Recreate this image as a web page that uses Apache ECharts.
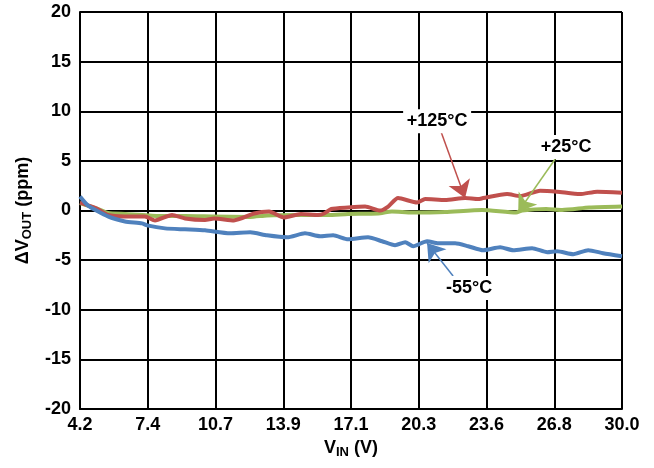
<!DOCTYPE html>
<html>
<head>
<meta charset="utf-8">
<script src="https://cdn.jsdelivr.net/npm/echarts@6/dist/echarts.min.js"></script>
<style>
html,body{margin:0;padding:0;background:#fff;}
#chart{width:654px;height:468px;}
</style>
</head>
<body>
<div id="chart"></div>
<script>
// X tick labels (V_IN)
const xTickLabels = ['4.2','7.4','10.7','13.9','17.1','20.3','23.6','26.8','30.0'];
// -55°C
const vin55 = [4.2, 4.58, 5.53, 6.34, 7.15, 7.39, 8.25, 9.2, 10.15, 11.34, 12.3, 13.1, 14.06, 14.91, 15.63, 16.25, 16.96, 17.91, 18.58, 19.2, 19.68, 20.06, 20.72, 21.25, 22.06, 22.68, 23.39, 24.2, 24.82, 25.72, 26.44, 26.91, 27.68, 28.39, 29.1, 30.0];
const dv55 = [1.4, 0.5, -0.6, -1.1, -1.3, -1.5, -1.8, -1.9, -2.0, -2.3, -2.2, -2.5, -2.7, -2.3, -2.6, -2.5, -2.9, -2.7, -3.1, -3.5, -3.2, -3.6, -3.1, -3.3, -3.3, -3.6, -4.0, -3.7, -4.0, -3.8, -4.2, -4.1, -4.4, -4.0, -4.3, -4.6];
// +25°C
const vin25 = [4.2, 5.0, 5.53, 6.34, 7.91, 9.2, 10.53, 12.3, 13.1, 14.58, 16.0, 16.96, 18.39, 19.05, 20.0, 21.58, 23.34, 24.96, 25.25, 26.39, 27.15, 28.44, 30.0];
const dv25 = [0.75, 0.2, -0.25, -0.35, -0.55, -0.55, -0.6, -0.65, -0.5, -0.45, -0.45, -0.35, -0.3, -0.1, -0.2, -0.15, 0.05, -0.2, 0.0, 0.15, 0.05, 0.3, 0.4];
// +125°C
const vin125 = [4.2, 5.0, 5.53, 6.34, 7.29, 7.77, 8.58, 9.2, 10.15, 10.58, 11.53, 12.49, 13.2, 13.91, 14.72, 15.53, 15.82, 16.16, 16.96, 17.77, 18.49, 18.87, 19.34, 20.25, 20.63, 21.58, 22.53, 23.15, 23.39, 24.53, 25.15, 26.1, 26.91, 28.0, 28.82, 30.0];
const dv125 = [0.8, 0.2, -0.45, -0.6, -0.6, -1.0, -0.45, -0.8, -0.95, -0.8, -1.0, -0.3, -0.1, -0.7, -0.35, -0.45, -0.3, 0.15, 0.3, 0.4, 0.0, 0.4, 1.25, 0.8, 1.15, 1.05, 1.25, 1.15, 1.25, 1.65, 1.45, 2.0, 1.9, 1.65, 1.9, 1.8];

// annotation labels and arrows, in data units
const seriesNames = ['+25°C', '+125°C', '-55°C'];
const labelPos = { '+25°C': [27.34, 6.4], '+125°C': [21.2, 9.0], '-55°C': [22.72, -7.8] };
const arrowFrom = { '+25°C': [26.82, 5.19], '+125°C': [21.39, 7.9], '-55°C': [21.96, -6.6] };
const arrowTo = { '+25°C': [25.06, -0.15], '+125°C': [22.53, 1.26], '-55°C': [20.72, -3.27] };
const colors = { '+25°C': '#9BBB59', '+125°C': '#C0504D', '-55°C': '#4F81BD' };

const xMin = 4.2, xMax = 30.0, xStep = 3.225;
const FONT = 'Liberation Sans, Arial, sans-serif';

function zip(xs, ys) { return xs.map((x, i) => [x, ys[i]]); }
const dataMap = { '+25°C': zip(vin25, dv25), '+125°C': zip(vin125, dv125), '-55°C': zip(vin55, dv55) };

const series = seriesNames.map(name => ({
  name: name,
  type: 'line',
  data: dataMap[name],
  showSymbol: false,
  smooth: 0.2,
  lineStyle: { color: colors[name], width: 4 },
  itemStyle: { color: colors[name] },
  animation: false,
  silent: true,
  markLine: {
    silent: true,
    animation: false,
    symbol: ['none', 'arrow'],
    symbolSize: 17,
    label: { show: false },
    lineStyle: { color: colors[name], width: 1.5, type: 'solid' },
    data: [[{ coord: arrowFrom[name] }, { coord: arrowTo[name] }]]
  },
  markPoint: {
    silent: true,
    animation: false,
    symbol: 'rect',
    symbolSize: [name.length * 11 + 2, 24],
    itemStyle: { color: '#ffffff' },
    label: { show: true, position: 'inside', formatter: name, color: '#000', fontFamily: FONT, fontWeight: 'bold', fontSize: 18 },
    data: [{ coord: labelPos[name] }]
  }
}));

const chart = echarts.init(document.getElementById('chart'), null, { renderer: 'canvas' });
chart.setOption({
  backgroundColor: '#ffffff',
  animation: false,
  grid: { left: 80, right: 32, top: 12, bottom: 59, containLabel: false },
  xAxis: {
    type: 'value',
    min: xMin, max: xMax, interval: xStep,
    name: '{n|V}{s|IN}{n| (V)}',
    nameLocation: 'middle',
    nameGap: 28,
    nameTextStyle: {
      rich: {
        n: { fontFamily: FONT, fontWeight: 'bold', fontSize: 18, color: '#000' },
        s: { fontFamily: FONT, fontWeight: 'bold', fontSize: 13, color: '#000', verticalAlign: 'bottom', padding: [9, 0, 0, 0] }
      }
    },
    axisLine: { show: true, onZero: false, lineStyle: { color: '#000', width: 2 } },
    axisTick: { show: false },
    splitLine: { show: true, lineStyle: { color: '#000', width: 2 } },
    axisLabel: {
      fontFamily: FONT, fontWeight: 'bold', fontSize: 18, color: '#000', margin: 7,
      showMinLabel: true, showMaxLabel: true,
      formatter: v => xTickLabels[Math.round((v - xMin) / xStep)]
    }
  },
  yAxis: {
    type: 'value',
    min: -20, max: 20, interval: 5,
    name: '{n|ΔV}{s|OUT}{n| (ppm)}',
    nameLocation: 'middle',
    nameGap: 38,
    nameRotate: 90,
    nameTextStyle: {
      rich: {
        n: { fontFamily: FONT, fontWeight: 'bold', fontSize: 18, color: '#000' },
        s: { fontFamily: FONT, fontWeight: 'bold', fontSize: 13, color: '#000', verticalAlign: 'bottom', padding: [9, 0, 0, 0] }
      }
    },
    axisLine: { show: true, lineStyle: { color: '#000', width: 2 } },
    axisTick: { show: false },
    splitLine: { show: true, lineStyle: { color: '#000', width: 2 } },
    axisLabel: { fontFamily: FONT, fontWeight: 'bold', fontSize: 18, color: '#000', margin: 9 }
  },
  series: series
});
</script>
</body>
</html>
